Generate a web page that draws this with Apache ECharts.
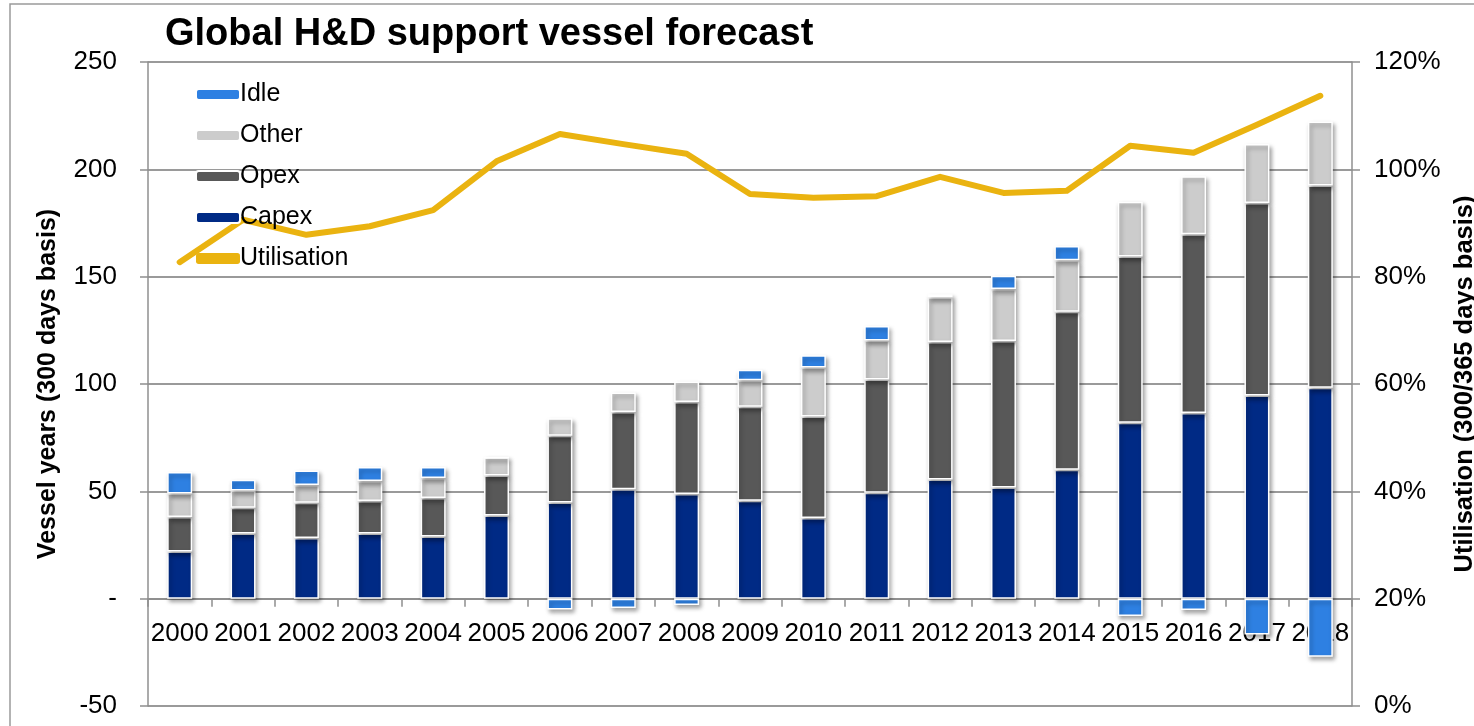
<!DOCTYPE html>
<html>
<head>
<meta charset="utf-8">
<script src="https://cdn.jsdelivr.net/npm/echarts@6/dist/echarts.min.js"></script>
<style>
html,body{margin:0;padding:0;background:#fff;}
#chart{width:1474px;height:726px;}
</style>
</head>
<body>
<div id="chart"></div>
<script>
const categories = ['2000','2001','2002','2003','2004','2005','2006','2007','2008','2009','2010','2011','2012','2013','2014','2015','2016','2017','2018'];
const capex = [22, 30.4, 28.3, 30.4, 29, 38.8, 44.8, 51, 48.7, 45.6, 37.6, 49.3, 55.5, 51.8, 60.1, 82, 86.5, 94.7, 98.3];
const opex = [16, 12, 16.4, 15.1, 17.9, 18.6, 31.1, 36, 42.9, 43.8, 47.3, 52.8, 64.1, 68.2, 73.5, 77.4, 83.3, 89.6, 94.2];
const other = [11, 8, 8.2, 9.3, 9.3, 8.4, 8.1, 9, 9.6, 12.4, 22.8, 18.2, 20.8, 24.3, 24.1, 25.5, 27, 27.5, 29.8];
const idle = [10, 5, 6.8, 6.5, 5.1, 0, -5, -4.3, -2.9, 4.8, 5.7, 6.7, 1.4, 6.1, 6.6, -8.1, -5.3, -16.7, -27];
const utilisation = [82.7, 90.6, 87.8, 89.4, 92.4, 101.5, 106.6, 104.7, 102.9, 95.4, 94.7, 95.0, 98.6, 95.6, 96.0, 104.4, 103.1, 108.3, 113.7];
const leftTicks = {min: -50, max: 250, interval: 50};
const rightTicks = {min: 0, max: 120, interval: 20};

const FONT = 'Liberation Sans, Arial, Helvetica, sans-serif';
const GOLD = '#eab310';
const chart = echarts.init(document.getElementById('chart'), null, {renderer: 'canvas'});

function barSeries(name, data, color) {
  return {
    name: name, type: 'bar', stack: 'total', data: data, barWidth: 25,
    itemStyle: {
      color: color, borderColor: '#ffffff', borderWidth: 1.5,
      shadowBlur: 4, shadowOffsetX: 2, shadowOffsetY: 3, shadowColor: 'rgba(0,0,0,0.35)'
    },
    emphasis: {disabled: true}
  };
}

const gridTop = 62, gridBottom = 20, chartH = 726;
const plotH = chartH - gridTop - gridBottom;
const zeroOffset = -plotH * (0 - leftTicks.min) / (leftTicks.max - leftTicks.min);

const option = {
  animation: false,
  backgroundColor: '#ffffff',
  textStyle: {fontFamily: FONT},
  title: {
    text: 'Global H&D support vessel forecast',
    left: 160, top: 11,
    textStyle: {fontFamily: FONT, fontSize: 38, fontWeight: 'bold', color: '#000'}
  },
  graphic: [{
    type: 'rect', shape: {x: 10, y: 4, width: 1500, height: 760},
    style: {fill: 'none', stroke: '#9a9a9a', lineWidth: 1.5}, silent: true, z: -10
  }],
  legend: {
    orient: 'vertical', left: 190, top: 77, z: 6,
    itemWidth: 44, itemHeight: 11, itemGap: 16,
    data: [
      {name: 'Idle'}, {name: 'Other'}, {name: 'Opex'}, {name: 'Capex'},
      {name: 'Utilisation', icon: 'roundRect', itemStyle: {color: GOLD, borderWidth: 0, shadowBlur: 0, shadowOffsetX: 0, shadowOffsetY: 0}}
    ],
    textStyle: {fontFamily: FONT, fontSize: 25, color: '#000', padding: [0, 0, 0, -5]},
    selectedMode: false
  },
  grid: {left: 148, right: 122, top: gridTop, bottom: gridBottom, containLabel: false, outerBoundsMode: 'none'},
  xAxis: {
    type: 'category', data: categories, position: 'bottom', offset: zeroOffset,
    axisLine: {onZero: false, lineStyle: {color: '#8f8f8f', width: 2}},
    axisTick: {show: true, length: 8, lineStyle: {color: '#8f8f8f', width: 1.5}},
    axisLabel: {fontFamily: FONT, fontSize: 26, color: '#000', margin: 22, interval: 0},
    splitLine: {show: false}
  },
  yAxis: [{
    type: 'value', min: leftTicks.min, max: leftTicks.max, interval: leftTicks.interval,
    name: 'Vessel years (300 days basis)', nameLocation: 'middle', nameRotate: 90, nameGap: 87,
    nameTextStyle: {fontFamily: FONT, fontSize: 25, fontWeight: 'bold', color: '#000'},
    axisLine: {show: true, lineStyle: {color: '#8f8f8f', width: 1.5}},
    axisTick: {show: true, length: 8, inside: false, lineStyle: {color: '#8f8f8f', width: 1.5}},
    axisLabel: {fontFamily: FONT, fontSize: 26, color: '#000', margin: 31,
      formatter: function (v) { return v === 0 ? '-' : String(v); }},
    splitLine: {show: true, lineStyle: {color: '#9a9a9a', width: 2}}
  }, {
    type: 'value', min: rightTicks.min, max: rightTicks.max, interval: rightTicks.interval,
    position: 'right',
    name: 'Utilisation (300/365 days basis)', nameLocation: 'middle', nameRotate: 90, nameGap: 100,
    nameTextStyle: {fontFamily: FONT, fontSize: 25.5, fontWeight: 'bold', color: '#000'},
    axisLine: {show: true, lineStyle: {color: '#8f8f8f', width: 1.5}},
    axisTick: {show: true, length: 8, inside: false, lineStyle: {color: '#8f8f8f', width: 1.5}},
    axisLabel: {fontFamily: FONT, fontSize: 26, color: '#000', margin: 22, formatter: '{value}%'},
    splitLine: {show: false}
  }],
  series: [
    barSeries('Capex', capex, '#002a85'),
    barSeries('Opex', opex, '#585858'),
    barSeries('Other', other, '#cccccc'),
    barSeries('Idle', idle, '#2e80e2'),
    {
      name: 'Utilisation', type: 'line', yAxisIndex: 1, data: utilisation,
      showSymbol: false, symbol: 'none', z: 3,
      lineStyle: {color: GOLD, width: 6, cap: 'round', join: 'round'},
      itemStyle: {color: GOLD},
      emphasis: {disabled: true}
    }
  ]
};
chart.setOption(option);
</script>
</body>
</html>
